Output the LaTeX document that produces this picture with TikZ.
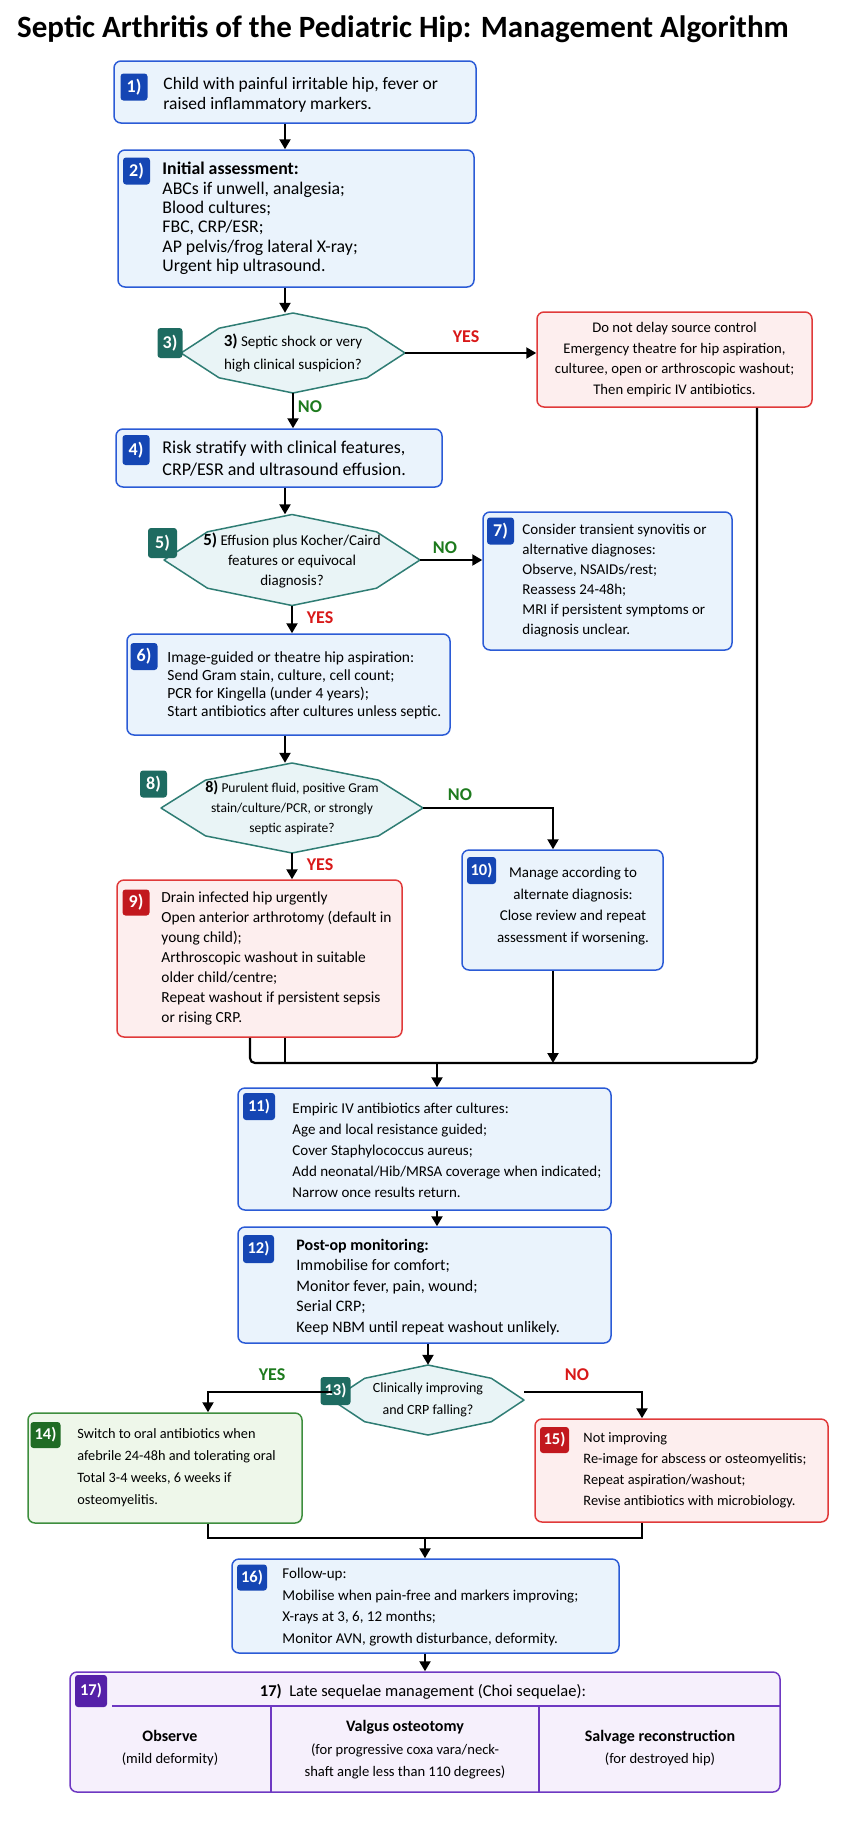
\documentclass[tikz,border=0pt]{standalone}
\usepackage{fontspec}
\setmainfont{Carlito}
\usepackage{tikz}
\usetikzlibrary{arrows.meta,calc,backgrounds}

\definecolor{boxblue}{HTML}{2B5BD6}
\definecolor{fillblue}{HTML}{EAF3FC}
\definecolor{badgeblue}{HTML}{1546B4}
\definecolor{boxred}{HTML}{E03A3A}
\definecolor{fillred}{HTML}{FDEEEE}
\definecolor{badgered}{HTML}{C2181E}
\definecolor{boxgreen}{HTML}{3E8E3E}
\definecolor{fillgreen}{HTML}{EEF7EA}
\definecolor{badgegreen}{HTML}{1F6B24}
\definecolor{hexteal}{HTML}{2F7D74}
\definecolor{fillteal}{HTML}{E9F4F6}
\definecolor{badgeteal}{HTML}{1E6B61}
\definecolor{boxpurple}{HTML}{6E38C2}
\definecolor{fillpurple}{HTML}{F6F0FC}
\definecolor{badgepurple}{HTML}{5520A8}
\definecolor{yesgreen}{HTML}{1D7A1D}
\definecolor{nored}{HTML}{D81818}

\newcommand{\setfs}[2]{\fontsize{#1}{#2}\selectfont}
\def\hexframe#1#2#3{\draw[hexline, shift={(#1.center)}] (-#2,0) -- (-0.66*#2,-0.62*#3) -- (0,-#3) -- (0.66*#2,-0.62*#3) -- (#2,0) -- (0.66*#2,0.62*#3) -- (0,#3) -- (-0.66*#2,0.62*#3) -- cycle;}

\tikzset{
	boxbase/.style={draw, rounded corners=7pt, line width=1.5pt, inner sep=0pt},
	bluebox/.style={boxbase, draw=boxblue, fill=fillblue},
	redbox/.style={boxbase, draw=boxred, fill=fillred},
	greenbox/.style={boxbase, draw=boxgreen, fill=fillgreen},
	purplebox/.style={boxbase, draw=boxpurple, fill=fillpurple},
	hexline/.style={draw=hexteal, fill=fillteal, line width=1.5pt, line join=round},
	badge/.style={rounded corners=3pt, text=white, font=\bfseries\setfs{18}{18}, minimum width=27pt, minimum height=27pt, inner sep=0pt},
	badgetwo/.style={badge, font=\bfseries\setfs{16.5}{16.5}},
	txt/.style={anchor=west, align=left, inner sep=0pt},
	dec/.style={align=center, inner sep=0pt},
	yeslab/.style={font=\bfseries\setfs{18}{18}},
	arr/.style={line width=2.2pt, -{Triangle[width=11pt,length=10pt]}},
	link/.style={line width=2.2pt}
}

\begin{document}
\begin{tikzpicture}[x=1pt,y=-1pt]
	%%%%% START %%%%%
	
	\useasboundingbox (0,0) rectangle (864,1821);
	\coordinate (col) at (285,0);
	\coordinate (lcol) at (250,0);
	\coordinate (rcol) at (553,0);
	\coordinate (xr) at (757,0);
	\coordinate (ycol) at (208,0);
	\coordinate (ncol) at (642,0);
	\coordinate (jn) at (437,1063);
	\coordinate (jb) at (425,1538);
	
	\node[anchor=base west, inner sep=0pt, font=\bfseries\setfs{31}{36}] (title) at (17,37) {Septic Arthritis of the Pediatric Hip: Management Algorithm};
	
	\node[bluebox, minimum width=362, minimum height=62] (b1) at (295,92) {};
	\node[badge, fill=badgeblue] (n1) at (134,87) {1)};
	\node[txt, font=\setfs{17.5}{20}] (t1) at ([xshift=50pt,yshift=-3pt]b1.west) {Child with painful irritable hip, fever or\\raised inflammatory markers.};
	
	\node[bluebox, minimum width=356, minimum height=137] (b2) at (296,218.5) {};
	\node[badge, fill=badgeblue] (n2) at (136.5,171) {2)};
	\node[txt, font=\setfs{17.8}{19.4}] (t2) at ([xshift=45pt]b2.west) {\textbf{Initial assessment:}\\ABCs if unwell, analgesia;\\Blood cultures;\\FBC, CRP/ESR;\\AP pelvis/frog lateral X-ray;\\Urgent hip ultrasound.};
	
	\node[dec, minimum width=224, minimum height=80, font=\setfs{15}{23}] (d3) at (293,353) {{\bfseries\setfs{17}{23}3)} Septic shock or very\\high clinical suspicion?};
	\node[badge, fill=badgeteal, minimum width=25pt, minimum height=30pt] (n3) at (170,343) {3)};
	
	\node[redbox, minimum width=275, minimum height=95, align=center, font=\setfs{14.7}{20.5}] (r3) at (674.5,359.5) {Do not delay source control\\Emergency theatre for hip aspiration,\\culturee, open or arthroscopic washout;\\Then empiric IV antibiotics.};
	
	\node[bluebox, minimum width=326, minimum height=58] (b4) at (279,458) {};
	\node[badge, fill=badgeblue, minimum height=30pt] (n4) at (136,450) {4)};
	\node[txt, font=\setfs{18}{22}] (t4) at ([xshift=47pt,yshift=-1pt]b4.west) {Risk stratify with clinical features,\\CRP/ESR and ultrasound effusion.};
	
	\node[dec, minimum width=256, minimum height=91, font=\setfs{15}{20}] (d5) at (292,560) {{\bfseries\setfs{17}{20}5)} Effusion plus Kocher/Caird\\features or equivocal\\diagnosis?};
	\node[badge, fill=badgeteal, minimum width=29pt, minimum height=30pt] (n5) at (162.5,543) {5)};
	
	\node[bluebox, minimum width=249, minimum height=138] (b7) at (607.5,581) {};
	\node[badge, fill=badgeblue] (n7) at (500.5,531) {7)};
	\node[txt, font=\setfs{15}{20}] (t7) at ([xshift=40pt]b7.west) {Consider transient synovitis or\\alternative diagnoses:\\Observe, NSAIDs/rest;\\Reassess 24-48h;\\MRI if persistent symptoms or\\diagnosis unclear.};
	
	\node[bluebox, minimum width=323, minimum height=101] (b6) at (288.5,684.5) {};
	\node[badge, fill=badgeblue] (n6) at (144,656.5) {6)};
	\node[txt, font=\setfs{15.5}{18}] (t6) at ([xshift=41pt,yshift=-1pt]b6.west) {Image-guided or theatre hip aspiration:\\Send Gram stain, culture, cell count;\\PCR for Kingella (under 4 years);\\Start antibiotics after cultures unless septic.};
	
	\node[dec, minimum width=262, minimum height=90, font=\setfs{13.5}{20}] (d8) at (292,808) {{\bfseries\setfs{16}{20}8)} Purulent fluid, positive Gram\\stain/culture/PCR, or strongly\\septic aspirate?};
	\node[badge, fill=badgeteal] (n8) at (153.5,784) {8)};
	
	\node[redbox, minimum width=285, minimum height=157] (b9) at (259.5,958.5) {};
	\node[badge, fill=badgered, minimum height=26pt] (n9) at (136,902.5) {9)};
	\node[txt, font=\setfs{15.4}{20}] (t9) at ([xshift=45pt]b9.west) {Drain infected hip urgently\\Open anterior arthrotomy (default in\\young child);\\Arthroscopic washout in suitable\\older child/centre;\\Repeat washout if persistent sepsis\\or rising CRP.};
	
	\node[bluebox, minimum width=201, minimum height=120] (b10) at (562.5,910) {};
	\node[badgetwo, fill=badgeblue, minimum width=29pt] (n10) at (481.5,870.5) {10)};
	\node[dec, font=\setfs{15}{21.5}] (t10) at (573,906) {Manage according to\\alternate diagnosis:\\Close review and repeat\\assessment if worsening.};
	
	\node[bluebox, minimum width=373, minimum height=122] (b11) at (424.5,1149) {};
	\node[badgetwo, fill=badgeblue, minimum width=32pt] (n11) at (259,1106.5) {11)};
	\node[txt, font=\setfs{15}{21}] (t11) at ([xshift=55pt,yshift=-1pt]b11.west) {Empiric IV antibiotics after cultures:\\Age and local resistance guided;\\Cover Staphylococcus aureus;\\Add neonatal/Hib/MRSA coverage when indicated;\\Narrow once results return.};
	
	\node[bluebox, minimum width=373, minimum height=116] (b12) at (424.5,1285) {};
	\node[badgetwo, fill=badgeblue, minimum width=31pt, minimum height=28pt] (n12) at (258.5,1249) {12)};
	\node[txt, font=\setfs{16}{20.5}] (t12) at ([xshift=59pt,yshift=-2pt]b12.west) {\textbf{Post-op monitoring:}\\Immobilise for comfort;\\Monitor fever, pain, wound;\\Serial CRP;\\Keep NBM until repeat washout unlikely.};
	
	\node[dec, minimum width=192, minimum height=70, font=\setfs{14}{22}] (d13) at (428,1400) {Clinically improving\\and CRP falling?};
	\node[badgetwo, fill=badgeteal, minimum width=30pt, minimum height=28pt] (n13) at (335.5,1391) {13)};
	
	\node[greenbox, minimum width=274, minimum height=110] (b14) at (165,1468) {};
	\node[badgetwo, fill=badgegreen, minimum width=30pt, minimum height=26pt] (n14) at (45.5,1435) {14)};
	\node[txt, font=\setfs{14.3}{22}] (t14) at ([xshift=50pt]b14.west) {Switch to oral antibiotics when\\afebrile 24-48h and tolerating oral\\Total 3-4 weeks, 6 weeks if\\osteomyelitis.};
	
	\node[redbox, minimum width=293, minimum height=103] (b15) at (681.5,1470.5) {};
	\node[badgetwo, fill=badgered, minimum width=29pt, minimum height=26pt] (n15) at (554.5,1440) {15)};
	\node[txt, font=\setfs{14.4}{21}] (t15) at ([xshift=49pt]b15.west) {Not improving\\Re-image for abscess or osteomyelitis;\\Repeat aspiration/washout;\\Revise antibiotics with microbiology.};
	
	\node[bluebox, minimum width=387, minimum height=94] (b16) at (425.5,1606) {};
	\node[badgetwo, fill=badgeblue, minimum width=30pt, minimum height=26pt] (n16) at (252,1577.5) {16)};
	\node[txt, font=\setfs{15}{21.5}] (t16) at ([xshift=51pt,yshift=-1pt]b16.west) {Follow-up:\\Mobilise when pain-free and markers improving;\\X-rays at 3, 6, 12 months;\\Monitor AVN, growth disturbance, deformity.};
	
	\node[purplebox, minimum width=710, minimum height=120] (b17) at (425,1732) {};
	\node[badgetwo, fill=badgepurple, minimum width=32pt, minimum height=32pt] (n17) at (91,1691) {17)};
	\node[dec, font=\setfs{16.5}{20}] (h17) at (423,1692) {\textbf{17)}\ \ Late sequelae management (Choi sequelae):};
	\draw[boxpurple, line width=1.3pt] (112,1706) -- (780,1706);
	\draw[boxpurple, line width=1.3pt] (271,1706) -- (271,1792);
	\draw[boxpurple, line width=1.3pt] (539,1706) -- (539,1792);
	\node[dec, font=\setfs{14.6}{21.5}] (c1) at (170,1748) {{\bfseries\setfs{16}{21.5}Observe}\\(mild deformity)};
	\node[dec, font=\setfs{14.6}{22.5}] (c2) at (405,1750) {{\bfseries\setfs{16}{22.5}Valgus osteotomy}\\(for progressive coxa vara/neck-\\shaft angle less than 110 degrees)};
	\node[dec, font=\setfs{14.6}{21.5}] (c3) at (660,1748) {{\bfseries\setfs{16}{21.5}Salvage reconstruction}\\(for destroyed hip)};
	
	\begin{pgfonlayer}{background}
		\hexframe{d3}{112}{40}
		\hexframe{d5}{128}{45.5}
		\hexframe{d8}{131}{45}
		\hexframe{d13}{96}{35}
	\end{pgfonlayer}
	
	\draw[arr] (b1.south -| col) -- (b2.north -| col);
	\draw[arr] (b2.south -| col) -- (d3.north -| col);
	\draw[arr] (d3.east) -- (d3.east -| r3.west);
	\node[yeslab, text=nored] (y3) at (466,337) {YES};
	\draw[arr] (d3.south) -- (d3.south |- b4.north);
	\node[yeslab, text=yesgreen] (no3) at (310,407) {NO};
	
	\draw[arr] (b4.south -| col) -- (d5.north -| col);
	\draw[arr] (d5.east) -- (d5.east -| b7.west);
	\node[yeslab, text=yesgreen] (no5) at (445,548) {NO};
	\draw[arr] (d5.south) -- (d5.south |- b6.north);
	\node[yeslab, text=nored] (y5) at (320,618) {YES};
	
	\draw[arr] (b6.south -| col) -- (d8.north -| col);
	\draw[arr] (d8.east) -| (rcol |- b10.north);
	\node[yeslab, text=yesgreen] (no8) at (460,795) {NO};
	\draw[arr] (d8.south) -- (d8.south |- b9.north);
	\node[yeslab, text=nored] (y8) at (320,865) {YES};
	
	\draw[link, rounded corners=5pt] (xr |- r3.south) |- (lcol |- jn) -- (lcol |- b9.south);
	\draw[link] (col |- b9.south) -- (col |- jn);
	\draw[arr] (rcol |- b10.south) -- (rcol |- jn);
	\draw[arr] (jn) -- (jn |- b11.north);
	\draw[arr] (jn |- b11.south) -- (jn |- b12.north);
	
	\draw[arr] (b12.south -| d13.north) -- (d13.north);
	\draw[arr] ([yshift=8pt]d13.west) -| (ycol |- b14.north);
	\node[yeslab, text=yesgreen] (y13) at (272,1375) {YES};
	\draw[arr] ([yshift=8pt]d13.east) -| (ncol |- b15.north);
	\node[yeslab, text=nored] (no13) at (577,1375) {NO};
	
	\draw[link] (ycol |- b14.south) |- (ncol |- jb) -- (ncol |- b15.south);
	\draw[arr] (jb) -- (jb |- b16.north);
	\draw[arr] (b16.south -| jb) -- (jb |- b17.north);
	
	%%%%% END %%%%%
\end{tikzpicture}
\end{document}
